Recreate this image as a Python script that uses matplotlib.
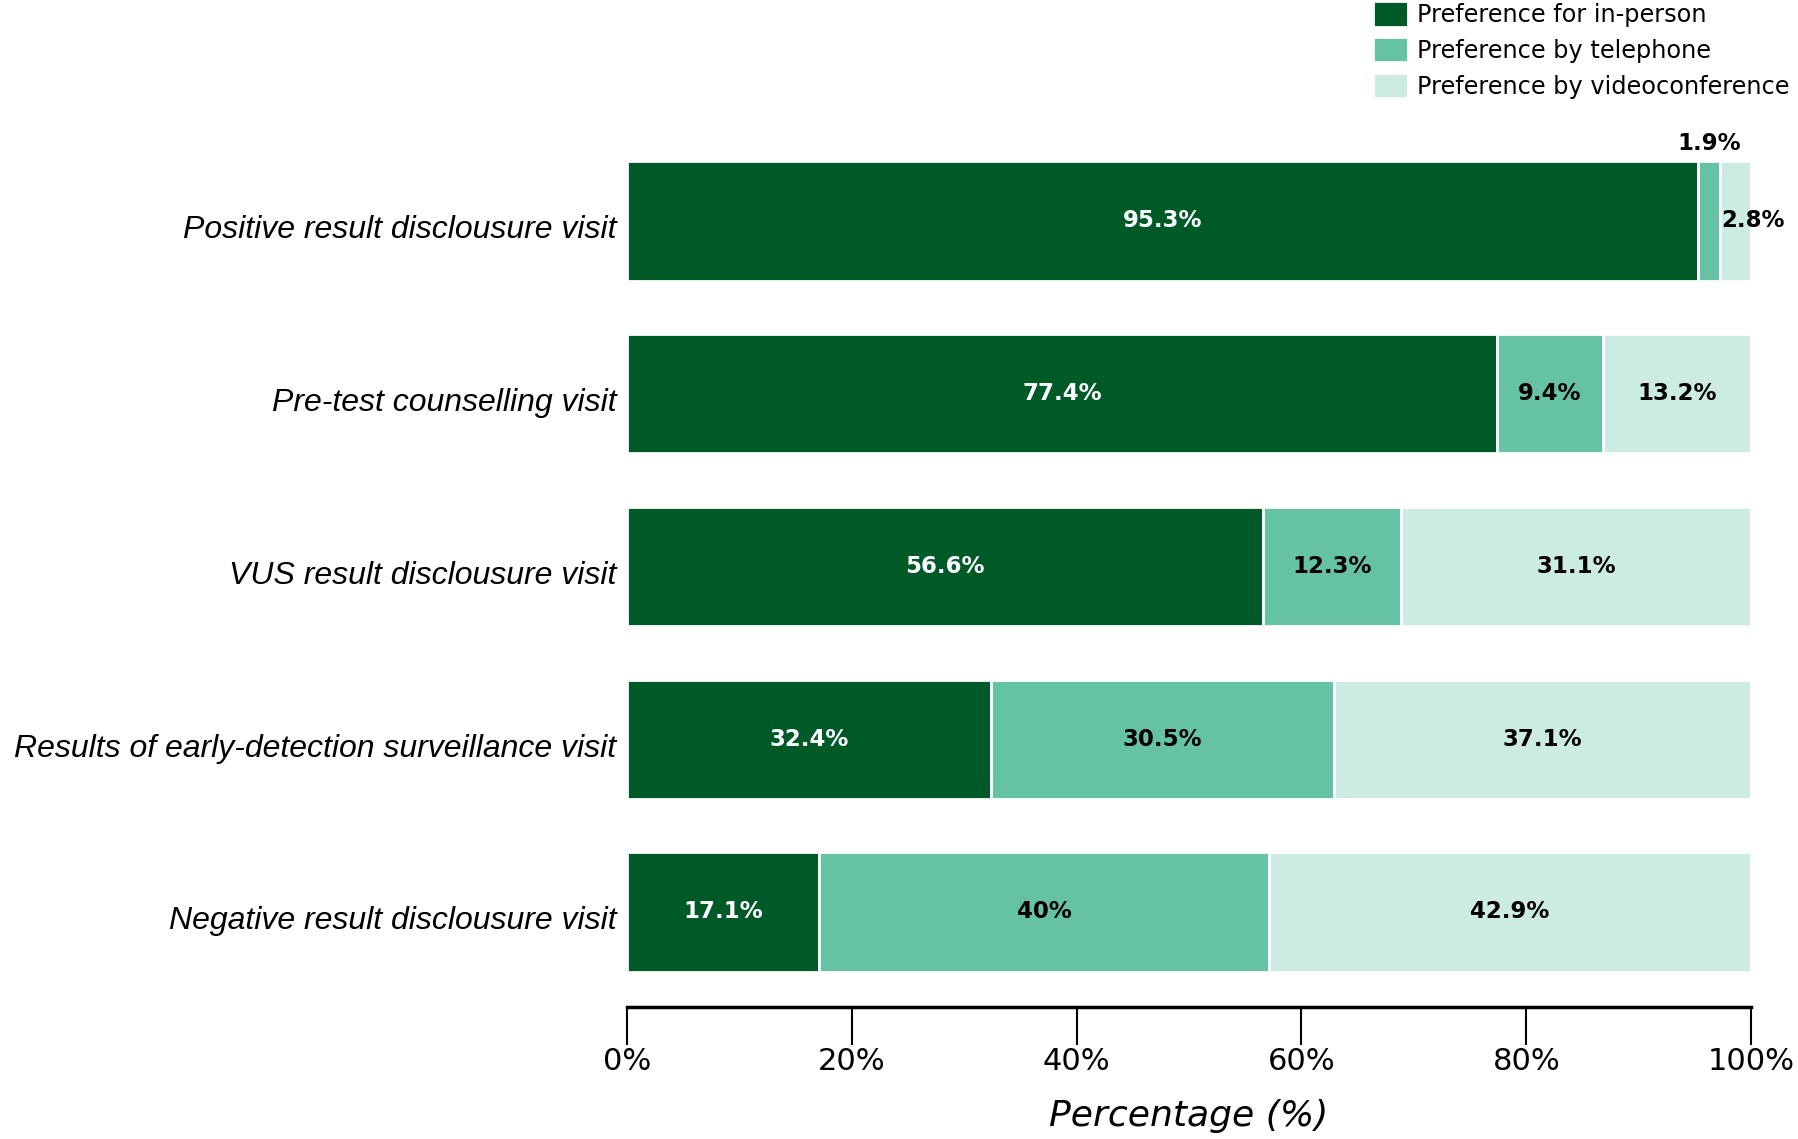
import matplotlib.pyplot as plt
import matplotlib.transforms as mtransforms
import numpy as np

categories = [
    "Positive result disclousure visit",
    "Pre-test counselling visit",
    "VUS result disclousure visit",
    "Results of early-detection surveillance visit",
    "Negative result disclousure visit",
]
in_person = [95.3, 77.4, 56.6, 32.4, 17.1]
telephone = [1.9, 9.4, 12.3, 30.5, 40.0]
video = [2.8, 13.2, 31.1, 37.1, 42.9]
series_names = ["Preference for in-person", "Preference by telephone",
                "Preference by videoconference"]
colors = ["#005A28", "#66C2A5", "#CCEBE2"]
text_colors = ["white", "black", "black"]

fig = plt.figure(figsize=(17.98, 11.39), dpi=100)
ax = fig.add_axes([0.3487, 0.1159, 0.6252, 0.7735])

y = np.arange(len(categories))
left = np.zeros(len(categories))
for vals, col, tcol, name in zip([in_person, telephone, video], colors, text_colors, series_names):
    vals = np.array(vals)
    ax.barh(y, vals, left=left, height=0.69, color=col, edgecolor="white",
            linewidth=2, label=name)
    for i, (v, l) in enumerate(zip(vals, left)):
        lab = f"{v:g}%"
        if v < 2.5:
            # tiny segment: label above the bar
            ax.text(l + v / 2, i - 0.38, lab, ha="center", va="bottom",
                    fontsize=16.5, fontweight="bold", color="black")
        elif v < 5:
            ax.text(l + 0.15, i, lab, ha="left", va="center",
                    fontsize=16.5, fontweight="bold", color="black")
        else:
            ax.text(l + v / 2, i, lab, ha="center", va="center",
                    fontsize=16.5, fontweight="bold", color=tcol)
    left = left + vals

ax.set_xlim(0, 100)
ax.set_ylim(4.55, -0.55)
ax.set_yticks(y)
ax.set_yticklabels(categories, fontsize=23, fontstyle="italic",
                   family="Liberation Sans")
ax.tick_params(axis="y", length=0, pad=7.5)
shift = mtransforms.ScaledTranslation(0, -6 / 100, fig.dpi_scale_trans)
for t in ax.get_yticklabels():
    t.set_transform(t.get_transform() + shift)

ax.set_xticks([0, 20, 40, 60, 80, 100])
ax.set_xticklabels(["0%", "20%", "40%", "60%", "80%", "100%"], fontsize=22)
ax.tick_params(axis="x", length=27, width=1.5, pad=1.5)
for s in ["top", "right", "left"]:
    ax.spines[s].set_visible(False)
ax.spines["bottom"].set_linewidth(2.5)
ax.set_xlabel("Percentage (%)", fontsize=26, fontstyle="italic", labelpad=17)

fig.legend(loc="upper left", bbox_to_anchor=(0.7636, 0.999), frameon=False,
           fontsize=17.3, handlelength=1.45, handleheight=1.25, labelspacing=0.42,
           handletextpad=0.38, borderpad=0, borderaxespad=0)

fig.savefig("out.png", dpi=100)
